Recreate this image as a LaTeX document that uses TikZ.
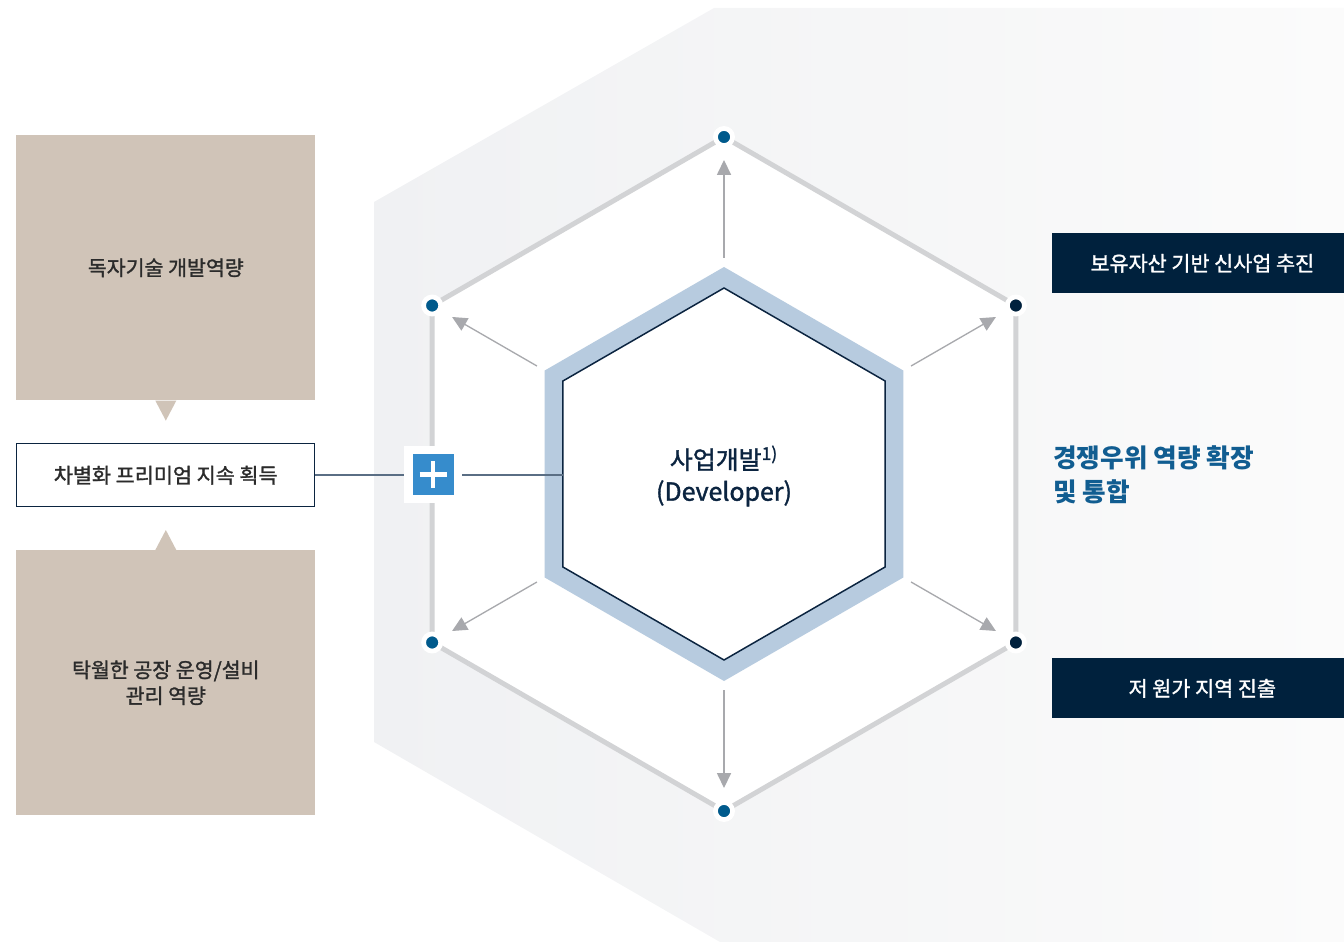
\documentclass[tikz,border=0pt]{standalone}
\usepackage{fontspec}
\setmainfont{Noto Sans CJK KR}
\newfontfamily\krmed[FakeBold=1.4]{Noto Sans CJK KR}
\usetikzlibrary{positioning,arrows.meta}

\definecolor{navy}{HTML}{0B2440}
\definecolor{deepnavy}{HTML}{00213D}
\definecolor{dotblue}{HTML}{005A8C}
\definecolor{ringgray}{HTML}{D2D3D5}
\definecolor{arrowgray}{HTML}{A8A9AD}
\definecolor{bandblue}{HTML}{B7CBDF}
\definecolor{sand}{HTML}{D0C4B8}
\definecolor{plusblue}{HTML}{368CCC}
\definecolor{linkslate}{HTML}{5A6E84}
\definecolor{accentblue}{HTML}{115D91}
\definecolor{inkgray}{HTML}{2B2B2B}
\definecolor{bgleft}{HTML}{F0F1F3}
\definecolor{bgright}{HTML}{FBFBFB}

\begin{document}
\begin{tikzpicture}[x=0.02cm,y=-0.02cm,
  dot/.style={circle,draw=white,line width=2.7pt,minimum size=9.75pt,inner sep=0pt},
  flow/.style={arrowgray,line width=0.75pt,-{Triangle[length=8.5pt,width=8pt]}},
  link/.style={linkslate,line width=0.85pt},
  sandbox/.style={fill=sand,minimum width=5.98cm,minimum height=5.3cm,anchor=north west,
    text=inkgray,align=center,font=\krmed\fontsize{11.7}{14.7}\selectfont},
  navybox/.style={fill=deepnavy,minimum width=6cm,minimum height=1.2cm,anchor=north west,
    text=white,font=\krmed\fontsize{11.8}{13}\selectfont}]

\useasboundingbox (0,0) rectangle (1344,942);

\shade[left color=bgleft,right color=bgright] (374,202) -- (714,8) -- (1344,8) -- (1344,942) -- (720,942) -- (374,742) -- cycle;

\begin{scope}[shift={(724,474)}]
  \filldraw[fill=white,draw=ringgray,line width=2.8pt] (-90:337) \foreach \a in {-30,30,90,150,210} {-- (\a:337)} -- cycle;
  \foreach \a [count=\i] in {-90,-30,30,90,150,210} {
    \coordinate (from\i) at (\a:216);
    \coordinate (to\i) at (\a:314);
    \draw[flow] (from\i) -- (to\i);
  }
  \fill[bandblue] (-90:207) \foreach \a in {-30,30,90,150,210} {-- (\a:207)} -- cycle;
  \filldraw[fill=white,draw=navy,line width=0.85pt] (-90:186) \foreach \a in {-30,30,90,150,210} {-- (\a:186)} -- cycle;
  \coordinate (core-w) at (180:161);
  \node[text=navy,align=center,font=\krmed\fontsize{14.2}{18}\selectfont] (dev) at (0,2) {사업개발\textsuperscript{1)}\\(Developer)};
\end{scope}

\node[sandbox] (tech) at (16,135) {독자기술 개발역량};
\node[sandbox] (plant) at (16,550) {탁월한 공장 운영/설비\\관리 역량};
\fill[sand] ([xshift=-0.21cm]tech.south) -- ([xshift=0.21cm]tech.south) -- ([yshift=-0.4cm]tech.south) -- cycle;
\fill[sand] ([xshift=-0.21cm]plant.north) -- ([xshift=0.21cm]plant.north) -- ([yshift=0.4cm]plant.north) -- cycle;
\node[draw=navy,line width=0.85pt,fill=white,minimum width=5.96cm,minimum height=1.26cm,anchor=north west,
  text=inkgray,font=\krmed\fontsize{11.8}{14}\selectfont] (premium) at (16,443) {차별화 프리미엄 지속 획득};

\node[fill=white,minimum size=1.16cm,inner sep=0pt] (plus) at (433,474.5) {};
\node[fill=plusblue,minimum size=0.82cm,inner sep=0pt] (plusicon) at (plus) {};
\draw[white,line width=2.3pt] ([xshift=-0.27cm]plusicon.center) -- ([xshift=0.27cm]plusicon.center);
\draw[white,line width=2.3pt] ([yshift=-0.27cm]plusicon.center) -- ([yshift=0.27cm]plusicon.center);
\draw[link] (premium.east) -- (premium.east -| plus.west);
\draw[link] (plus.east |- premium.east) -- (premium.east -| core-w);

\begin{scope}[shift={(724,474)}]
  \foreach \a/\col [count=\i] in {-90/dotblue,-30/deepnavy,30/deepnavy,90/dotblue,150/dotblue,210/dotblue}
    \node[dot,fill=\col] (v\i) at (\a:337) {};
\end{scope}

\node[navybox] (assets) at (1052,233) {보유자산 기반 신사업 추진};
\node[navybox] (lowcost) at (1052,658) {저 원가 지역 진출};
\node[anchor=west,text=accentblue,align=left,inner sep=0pt,font=\bfseries\fontsize{14.6}{19.3}\selectfont] (edge) at (1053,475) {경쟁우위 역량 확장\\및 통합};
\end{tikzpicture}
\end{document}
